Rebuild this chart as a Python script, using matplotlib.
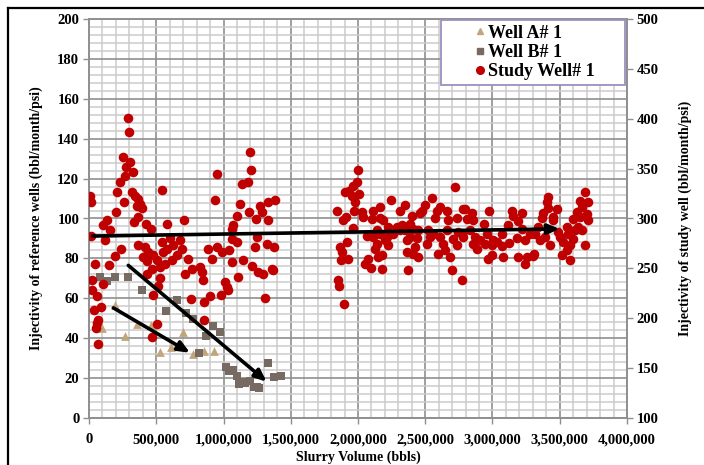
import matplotlib
matplotlib.use("Agg")
import matplotlib.pyplot as plt
from matplotlib.ticker import MultipleLocator, FuncFormatter
from matplotlib.lines import Line2D
from matplotlib.legend_handler import HandlerBase
import numpy as np

# ---------------- data ----------------
# Well A# 1 (primary axis) : slurry volume (thousand bbls), injectivity
wellA_x_k = [94, 193, 270, 355, 459, 528, 607, 697, 771, 855, 929]
wellA_y = [45.3, 56.5, 41.3, 47.3, 46.7, 33.2, 35.8, 43.3, 32.3, 33.7, 33.5]

# Well B# 1 (primary axis)
wellB_x_k = [82, 131, 193, 292, 392, 569, 657, 721, 776, 867, 924, 974, 818,
             1016, 1043, 1073, 1098, 1118, 1147, 1160, 1197, 1227, 1247, 1266,
             1333, 1375, 1428]
wellB_y = [70.7, 68.5, 70.7, 70.7, 64.3, 53.5, 59.3, 52.7, 49.5, 41.0, 46.0, 43.2, 32.5,
           25.8, 23.5, 24.3, 21.0, 17.2, 18.2, 17.7, 18.5, 15.7, 15.3, 15.2,
           27.7, 20.8, 21.2]

# Study Well# 1 (secondary axis)
study_x_k = [
    292, 297, 1197, 250, 305, 275, 329, 267, 230, 949, 540, 1202, 1135, 1179, 7, 15,
    210, 317, 342, 366, 379, 354, 396, 260, 198, 362, 337, 421, 461, 131, 106, 156,
    15, 119, 235, 193, 44, 148, 25, 106, 25, 57, 89, 39, 69, 52, 69, 62, 577, 706,
    936, 1122, 1189, 1271, 1328, 1283, 1097, 1073, 1239, 1333, 1060, 1246, 1320,
    1377, 1370, 1308, 1380, 366, 416, 441, 404, 428, 478, 503, 466, 428, 528, 552,
    577, 627, 676, 689, 651, 614, 565, 738, 763, 825, 837, 850, 713, 758, 887, 912,
    949, 986, 1041, 1011, 1023, 981, 899, 857, 857, 1060, 1147, 1209, 1259, 1296,
    1358, 1110, 1060, 1097, 1234, 540, 602, 503, 466, 473, 515, 527, 1030,
    2003, 1990, 1965, 1904, 1936, 2010, 1953, 1978, 1842, 1911, 1891, 1970, 2027,
    2040, 2109, 2164, 2243, 2102, 2164, 2184, 1965, 1866, 1879, 1921, 1928, 1871,
    2077, 2052, 2094, 2176, 1854, 1859, 1896, 2139, 2065, 2114, 2164, 2226, 2288,
    2312, 2350, 2325, 2387, 2399, 2461, 2498, 2548, 2473, 2585, 2610, 2659, 2573,
    2672, 2721, 2783, 2734, 2201, 2226, 2139, 2176, 2151, 2127, 2362, 2387, 2436,
    2424, 2449, 2362, 2412, 2374, 2523, 2511, 2560, 2610, 2635, 2647, 2684, 2697,
    2597, 2771, 2746, 2709, 2734, 2263, 2312, 2350, 2449, 2213, 2412, 2659, 2535,
    2795, 2845, 2976, 2808, 2857, 2936, 2770, 2783, 2832, 2869, 2857, 2907, 2956,
    2944, 2993, 3031, 3068, 3068, 3125, 3080, 2969, 2993, 3142, 3154, 3216, 3192,
    3117, 3179, 3241, 3278, 3216, 3316, 3353, 3298, 3254, 3192, 3241, 3308, 3365,
    3378, 3415, 3407, 3415, 3452, 3477, 3452, 3489, 3501, 3526, 3551, 3563, 3576,
    3551, 3600, 3514, 3576, 3638, 3650, 3625, 3662, 3650, 3687, 3712, 3700, 3712,
    3662, 3687, 3600, 3613, 3390, 3427, 3340, 3006, 2882]
study_y = [
    400.7, 387, 367, 361.3, 356.3, 351.3, 347, 343, 337, 344.7, 329, 349, 334.7, 336.3, 322.3, 317,
    327, 326.3, 323, 319.7, 314.7, 313, 310.3, 316.3, 306.3, 301.3, 296.3, 294.7, 289, 298, 293.7, 288,
    282.3, 278, 269.7, 262.3, 254.7, 253, 238, 234.7, 228, 222.3, 211.3, 208, 198, 190.3, 173.7, 195, 294.7, 298,
    319, 314.7, 306.3, 313, 317, 307, 303, 293.7, 299.7, 298, 289.7, 281.3, 274.7,
    271.3, 248, 220.3, 319, 273, 271.3, 266.3, 261.3, 257, 263, 258, 249.7, 244.7, 251.3, 266.3,
    269.7, 273, 278, 269.7, 263, 258, 254.7, 259.7, 249.7, 251.3, 246.3, 238, 244.7, 219.7, 269.7, 259.7,
    271.3, 266.3, 268, 236.3, 231.3, 223, 222.3, 216.3, 198, 256.3, 258, 252.3, 246.3, 244.7,
    249.7, 241.3, 279.7, 276.3, 271.3, 276.3, 280.3, 194.7, 181, 223, 232.7, 240, 228.7,
    349, 336.3, 333, 326.3, 328, 324.7, 323, 316.3, 307.3, 302, 298, 308, 306.3,
    301.3, 308, 312, 318.7, 299.7, 300.7, 298, 290.7, 271.3, 266.3, 276.3, 259.7, 258.7,
    259.7, 254, 250.7, 249.7, 238.7, 232.3, 214.7, 288, 282, 281.3, 284.7, 291.3, 291.3,
    308, 314, 293, 294.7, 303, 305.3, 314, 320.7, 308, 308, 311.3, 308, 300.7,
    298.7, 332, 309.7, 300.7, 278, 273, 274.7, 263, 261.3, 269.7, 278, 281.3, 280.7,
    271.3, 261.3, 266.3, 264.7, 248.7, 288, 274.7, 284.7, 281.3, 274.7, 268, 261.3, 248.7,
    264, 238.7, 286.3, 279.7, 273, 284.7, 288, 288, 288, 281.3, 289.7, 288, 281.3,
    309.7, 305.3, 307.3, 299.7, 298, 294, 284.7, 281.3, 288, 281.3, 274.7, 278, 284.7,
    274.7, 273, 276.3, 272, 284, 275.3, 261.3, 259.7, 263, 308, 303, 305.3, 297.3,
    293, 280.7, 278, 284.7, 289.7, 284.7, 278, 262, 261.3, 261.3, 254, 264, 300.7,
    305.3, 321.3, 316.3, 310.7, 302, 309.7, 298, 286.3, 281.3, 276.3, 291.3, 284.7, 273,
    268, 279.7, 263, 258, 291.3, 302, 306.3, 311.3, 317.3, 326.3, 316.3, 304.7, 298,
    288.7, 273, 299.7, 288, 281.3, 273, 291.3, 278, 269.7]

# trend arrows (start x k, start y, end x k, end y)
arrowA = [181, 55.2, 751, 32.7]
arrowB = [292, 76.5, 1321, 18.2]
arrowStudy = [27, 282.4, 3500, 289.6]

series_names = ["Well A# 1", "Well B# 1", "Study Well# 1"]
xlabel = "Slurry Volume (bbls)"
ylabel_left = "Injectivity of reference wells (bbl/month/psi)"
ylabel_right = "Injectivity of study well (bbl/month/psi)"

# ---------------- style ----------------
FONT = "Liberation Serif"
colA = "#C1A67C"
colB = "#776A62"
colS = "#C00000"

fig = plt.figure(figsize=(7.04, 4.65), dpi=100)
ax = fig.add_axes([89/704, 1-418/465, (627-89)/704, (418-19)/465])
ax2 = ax.twinx()

k = 1000.0
ax.set_xlim(0, 4_000_000)
ax.set_ylim(0, 200)
ax2.set_ylim(100, 500)

ax.xaxis.set_major_locator(MultipleLocator(500_000))
ax.xaxis.set_minor_locator(MultipleLocator(100_000))
ax.yaxis.set_major_locator(MultipleLocator(20))
ax.yaxis.set_minor_locator(MultipleLocator(4))
ax2.yaxis.set_major_locator(MultipleLocator(50))
ax2.yaxis.set_minor_locator(MultipleLocator(1000))

ax.grid(which="minor", color="#cbcbcb", linewidth=1.1)
ax.grid(which="major", color="#8f8f8f", linewidth=1.2)
ax.set_axisbelow(True)

ax.xaxis.set_major_formatter(FuncFormatter(lambda v, p: f"{int(v):,}"))

for a in (ax, ax2):
    for s in a.spines.values():
        s.set_color("#8f8f8f")
        s.set_linewidth(1.2)
    a.tick_params(which="major", length=4, width=1.0, color="#8f8f8f", direction="out", pad=3)
    a.tick_params(which="minor", length=0)
    for lab in a.get_xticklabels() + a.get_yticklabels():
        lab.set_fontfamily(FONT)
        lab.set_fontweight("bold")
        lab.set_fontsize(10.5)
ax.tick_params(axis="x", pad=7)

ax.scatter(np.array(wellA_x_k) * k, wellA_y, marker="^", s=40, color=colA, zorder=3, linewidths=0)
ax.scatter(np.array(wellB_x_k) * k, wellB_y, marker="s", s=38, color=colB, zorder=3, linewidths=0)
ax2.scatter(np.array(study_x_k) * k, study_y, marker="o", s=48, color=colS, zorder=3, linewidths=0)

arrow_kw = dict(arrowstyle="-|>,head_length=0.7,head_width=0.3", color="black", lw=2.6,
                shrinkA=0, shrinkB=0)
for arr in (arrowA, arrowB):
    ax2.annotate("", xy=(arr[2] * k, arr[3]), xytext=(arr[0] * k, arr[1]),
                 xycoords=ax.transData, textcoords=ax.transData,
                 arrowprops=arrow_kw, zorder=5)
ax2.annotate("", xy=(arrowStudy[2] * k, arrowStudy[3]), xytext=(arrowStudy[0] * k, arrowStudy[1]),
             xycoords="data", textcoords="data", arrowprops=arrow_kw, zorder=5)

lab_font = dict(fontfamily=FONT, fontweight="bold", fontsize=10)
ax.set_xlabel(xlabel, labelpad=3, **lab_font)
ax.set_ylabel(ylabel_left, labelpad=10, **lab_font)
ax2.set_ylabel(ylabel_right, labelpad=14, **lab_font)


class RightMarkerHandler(HandlerBase):
    def create_artists(self, legend, orig_handle, xdescent, ydescent, width, height, fontsize, trans):
        ln = Line2D([width - xdescent - 0.3 * fontsize], [0.5 * height - ydescent],
                    marker=orig_handle.get_marker(), color=orig_handle.get_color(),
                    markersize=orig_handle.get_markersize(), linestyle="none", transform=trans)
        return [ln]


handles = [
    Line2D([], [], marker="^", linestyle="none", color=colA, markersize=5),
    Line2D([], [], marker="s", linestyle="none", color=colB, markersize=5),
    Line2D([], [], marker="o", linestyle="none", color=colS, markersize=5.5),
]
leg = ax2.legend(handles, series_names, loc="upper left",
                 bbox_to_anchor=(0.654, 0.842, 0.343, 0.155), mode="expand",
                 handler_map={Line2D: RightMarkerHandler()},
                 prop=dict(family=FONT, weight="bold", size=13), frameon=True, fancybox=False,
                 borderpad=0.25, labelspacing=0.12, handletextpad=0.15, handlelength=2.2,
                 borderaxespad=0)
leg.get_frame().set_edgecolor("#9d8fc0")
leg.get_frame().set_linewidth(1.3)
leg.get_frame().set_facecolor("white")
leg.get_frame().set_alpha(1)
leg.set_zorder(10)

# outer frame (left and top edges)
fig.add_artist(Line2D([8/704, 8/704], [0, 1-8/465], transform=fig.transFigure, color="black", lw=1.6))
fig.add_artist(Line2D([8/704, 1], [1-8/465, 1-8/465], transform=fig.transFigure, color="black", lw=1.6))

fig.savefig("out.png", dpi=100)
